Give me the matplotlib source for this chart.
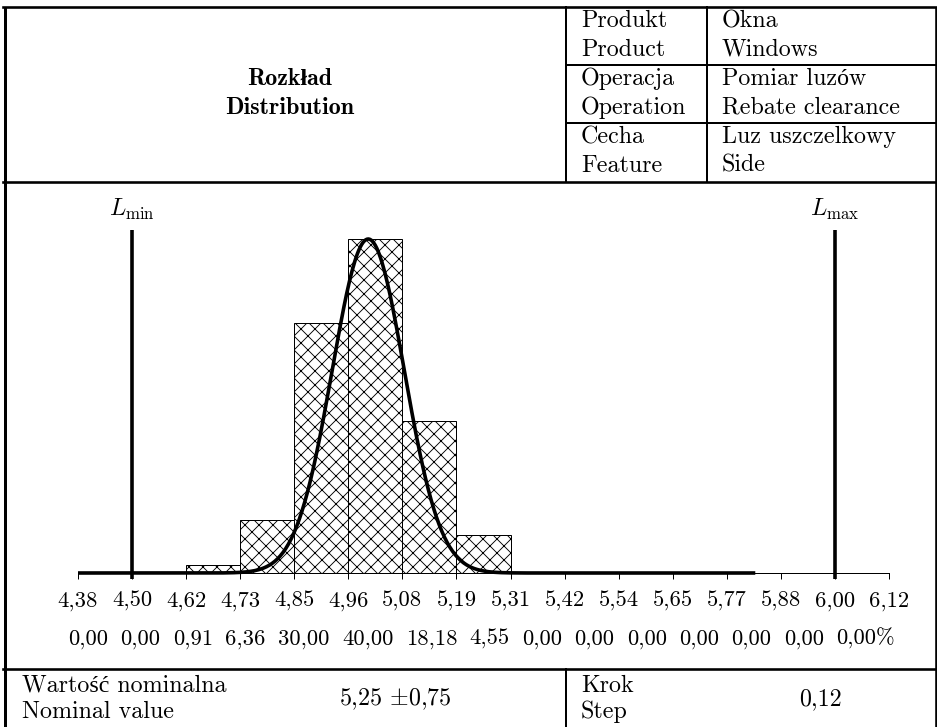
import matplotlib
matplotlib.use("Agg")
import matplotlib.pyplot as plt
import matplotlib.transforms as mtransforms
import numpy as np

# histogram data
bin_edges = [4.3846, 4.5000, 4.6154, 4.7308, 4.8462, 4.9615, 5.0769, 5.1923,
             5.3077, 5.4231, 5.5385, 5.6538, 5.7692, 5.8846, 6.0000, 6.1154]
tick_labels = ["4,38", "4,50", "4,62", "4,73", "4,85", "4,96", "5,08", "5,19",
               "5,31", "5,42", "5,54", "5,65", "5,77", "5,88", "6,00", "6,12"]
percent = [0.00, 0.00, 0.91, 6.36, 30.00, 40.00, 18.18, 4.55,
           0.00, 0.00, 0.00, 0.00, 0.00, 0.00, 0.00]
percent_labels = ["0,00", "0,00", "0,91", "6,36", "30,00", "40,00", "18,18", "4,55",
                  "0,00", "0,00", "0,00", "0,00", "0,00", "0,00", "0,00%"]
l_min = 4.50
l_max = 6.00

# fitted normal curve
curve_mu = 5.004
curve_sigma = 0.077
curve_peak = 40.0
curve_end = 5.83

# header / footer table text
header_left = ["Rozkład", "Distribution"]
header_keys = ["Produkt", "Product", "Operacja", "Operation", "Cecha", "Feature"]
header_vals = ["Okna", "Windows", "Pomiar luzów", "Rebate clearance",
               "Luz uszczelkowy", "Side"]
footer_left = ["Wartość nominalna", "Nominal value"]
footer_value = r"5,25 $\pm$0,75"
footer_step = ["Krok", "Step"]
footer_step_value = "0,12"

DPI = 84
W, H = 937, 727


def pt(px):
    return px * 72.0 / DPI


plt.rcParams['mathtext.fontset'] = 'cm'
plt.rcParams['hatch.linewidth'] = pt(0.9)
RM = ['cmr10', 'Liberation Serif']
BF = ['cmb10', 'Liberation Serif']
FS = pt(24)

fig = plt.figure(figsize=(W / DPI, H / DPI), dpi=DPI)
fig.patch.set_facecolor('white')

# frame in pixel coordinates, y downwards
frame = fig.add_axes([0, 0, 1, 1])
frame.set_xlim(0, W)
frame.set_ylim(H, 0)
frame.axis('off')

thick = pt(2.6)
thin = pt(2.0)
frame.plot([4.5, 4.5], [6.5, H], color='black', lw=pt(3), solid_capstyle='butt')
frame.plot([935.5, 935.5], [6.5, H], color='black', lw=thick, solid_capstyle='butt')
frame.plot([3, 937], [6.5, 6.5], color='black', lw=thick)
frame.plot([3, 937], [182, 182], color='black', lw=thick)
frame.plot([566, 566], [6.5, 182], color='black', lw=thin)
frame.plot([707, 707], [6.5, 182], color='black', lw=thin)
frame.plot([566, 937], [64.5, 64.5], color='black', lw=thin)
frame.plot([566, 937], [123, 123], color='black', lw=thin)
frame.plot([3, 937], [669, 669], color='black', lw=thick)
frame.plot([566, 566], [669, H], color='black', lw=thin)

frame.text(290, 85, header_left[0], ha='center', va='baseline',
           family=BF, fontsize=FS, fontweight='bold')
frame.text(290, 114, header_left[1], ha='center', va='baseline',
           family=BF, fontsize=FS, fontweight='bold')

baselines = [27, 56, 85, 114, 143, 172]
for key, val, yb in zip(header_keys, header_vals, baselines):
    frame.text(581, yb, key, ha='left', va='baseline', family=RM, fontsize=FS)
    frame.text(722, yb, val, ha='left', va='baseline', family=RM, fontsize=FS)

frame.text(22, 692, footer_left[0], ha='left', va='baseline', family=RM, fontsize=FS)
frame.text(22, 718, footer_left[1], ha='left', va='baseline', family=RM, fontsize=FS)
frame.text(395, 705, footer_value, ha='center', va='baseline', family=RM, fontsize=FS)
frame.text(581, 692, footer_step[0], ha='left', va='baseline', family=RM, fontsize=FS)
frame.text(581, 718, footer_step[1], ha='left', va='baseline', family=RM, fontsize=FS)
frame.text(820, 705, footer_step_value, ha='center', va='baseline', family=RM, fontsize=FS)

# histogram axes
x0, x1 = 78, 889
y_base, y_top = 573, 230
ax = fig.add_axes([x0 / W, (H - y_base) / H, (x1 - x0) / W, (y_base - y_top) / H])
ax.patch.set_alpha(0)
ax.set_xlim(bin_edges[0], bin_edges[-1])
ax.set_ylim(0, max(percent) * (y_base - y_top) / (y_base - 239))

widths = np.diff(bin_edges)
ax.bar(bin_edges[:-1], percent, width=widths, align='edge', color='white',
       edgecolor='black', linewidth=pt(1.0), hatch='xx', zorder=2)

xs = np.linspace(bin_edges[0], curve_end, 500)
ys = curve_peak * np.exp(-(xs - curve_mu) ** 2 / (2 * curve_sigma ** 2))
ax.plot(xs, ys, color='black', lw=pt(3.6), zorder=4, clip_on=False,
        solid_capstyle='butt')

blend = mtransforms.blended_transform_factory(ax.transData, frame.transData)
for lim, name in [(l_min, r'$L_{\min}$'), (l_max, r'$L_{\max}$')]:
    ax.plot([lim, lim], [230, 579], color='black', lw=pt(3.6), transform=blend,
            clip_on=False, zorder=5, solid_capstyle='butt')
    ax.text(lim, 216, name, transform=blend, ha='center', va='baseline',
            fontsize=FS)

for side in ['top', 'right', 'left']:
    ax.spines[side].set_visible(False)
ax.spines['bottom'].set_linewidth(pt(1.0))
ax.set_yticks([])
ax.set_xticks(bin_edges)
ax.set_xticklabels(tick_labels, family=RM, fontsize=pt(22.5))
ax.tick_params(axis='x', direction='out', length=pt(6), width=pt(1.0), pad=pt(12))

# percentage row, spread across like a justified line
pct_texts = [frame.text(0, 645, s, ha='left', va='baseline', family=RM, fontsize=pt(22.5))
             for s in percent_labels]
fig.canvas.draw()
renderer = fig.canvas.get_renderer()
tw = [t.get_window_extent(renderer).width for t in pct_texts]
left, right = 68, 895
gap = (right - left - sum(tw)) / (len(pct_texts) - 1)
xpos = left
for t, w in zip(pct_texts, tw):
    t.set_x(xpos)
    xpos += w + gap

fig.savefig("out.png", dpi=DPI)
